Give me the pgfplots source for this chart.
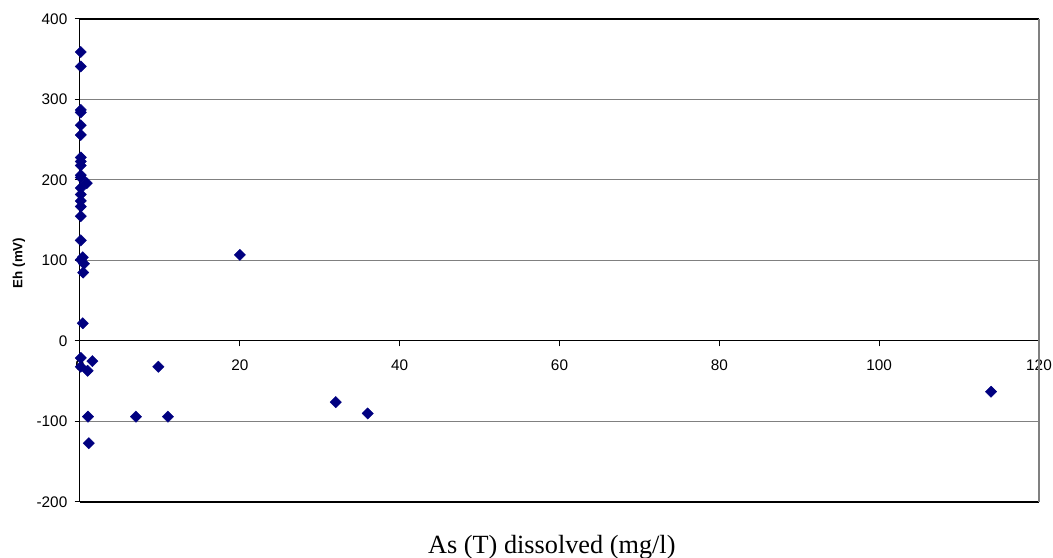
\documentclass[border=0pt]{standalone}
\usepackage{pgfplots}
\pgfplotsset{compat=1.18}
\usepackage{fontspec}
\setmainfont{Liberation Sans}
\newfontfamily\serifx{Liberation Serif}
\usetikzlibrary{calc}
\definecolor{ptnavy}{RGB}{0,0,128}
\definecolor{gridgray}{RGB}{128,128,128}

\begin{document}
\begin{tikzpicture}
\begin{axis}[
    scale only axis,
    width=719.25pt, height=362.25pt,
    xmin=0, xmax=120, ymin=-200, ymax=400,
    xtick={0,20,40,60,80,100,120},
    ytick={-200,-100,0,100,200,300,400},
    axis x line=middle, axis y line=left,
    axis line style={-, black, line width=0.75pt},
    tick align=outside,
    major tick length=4pt,
    tick style={black, line width=0.75pt},
    hide obscured x ticks=false,
    hide obscured y ticks=false,
    ymajorgrids=true,
    grid style={gridgray, line width=0.75pt},
    tick label style={font=\fontsize{11.5}{13}\selectfont},
    /pgf/number format/assume math mode=true,
    x tick label style={yshift=-6.5pt},
    y tick label style={xshift=-2pt},
    xlabel={\serifx\fontsize{19.7}{22}\selectfont As (T) dissolved (mg/l)},
    xlabel style={at={(axis description cs:0.492,-0.093)}, anchor=center},
    ylabel={\bfseries\fontsize{10}{12}\selectfont Eh (mV)},
    ylabel style={at={(axis description cs:-0.0636,0.495)}, anchor=center},
    clip=false,
]
\draw[black, line width=1.4pt] (rel axis cs:0,1) -- (rel axis cs:1,1);
\draw[black, line width=1.2pt] (rel axis cs:0,0) -- (rel axis cs:1,0);
\draw[gridgray, line width=1.5pt] (rel axis cs:1,0) -- (rel axis cs:1,1);
\coordinate (bl) at (rel axis cs:0,0);
\coordinate (tr) at (rel axis cs:1,1);
\addplot[only marks, mark=square*, mark size=3pt,
    mark options={rotate=45, fill=ptnavy, draw=ptnavy, line width=0.3pt}]
    coordinates {
    (0.1,359) (0.1,341) (0.1,287) (0.1,284) (0.1,268) (0.1,256)
    (0.1,228) (0.1,223) (0.1,218) (0.1,206) (0.1,203) (0.85,196)
    (0.1,190) (0.1,182) (0.1,174) (0.1,167) (0.1,155) (0.1,125)
    (0.35,104) (0.1,101) (0.5,96) (0.4,85) (0.35,22) (0.1,-21)
    (0.1,-32) (0.95,-37) (1.55,-25) (1.0,-94) (1.1,-127)
    (7,-94) (9.8,-32) (11,-94) (20,107) (32,-76) (36,-90) (114,-63)
    };
% x tick label at the origin, which pgfplots leaves out with a middle axis line
\node[anchor=center, yshift=-18pt, font=\fontsize{11.5}{13}\selectfont] at (axis cs:0,0) {0};
\end{axis}
\pgfresetboundingbox
\path[use as bounding box] ($(bl)+(-60pt,-42pt)$) rectangle ($(tr)+(10.5pt,14.25pt)$);
\end{tikzpicture}
\end{document}
